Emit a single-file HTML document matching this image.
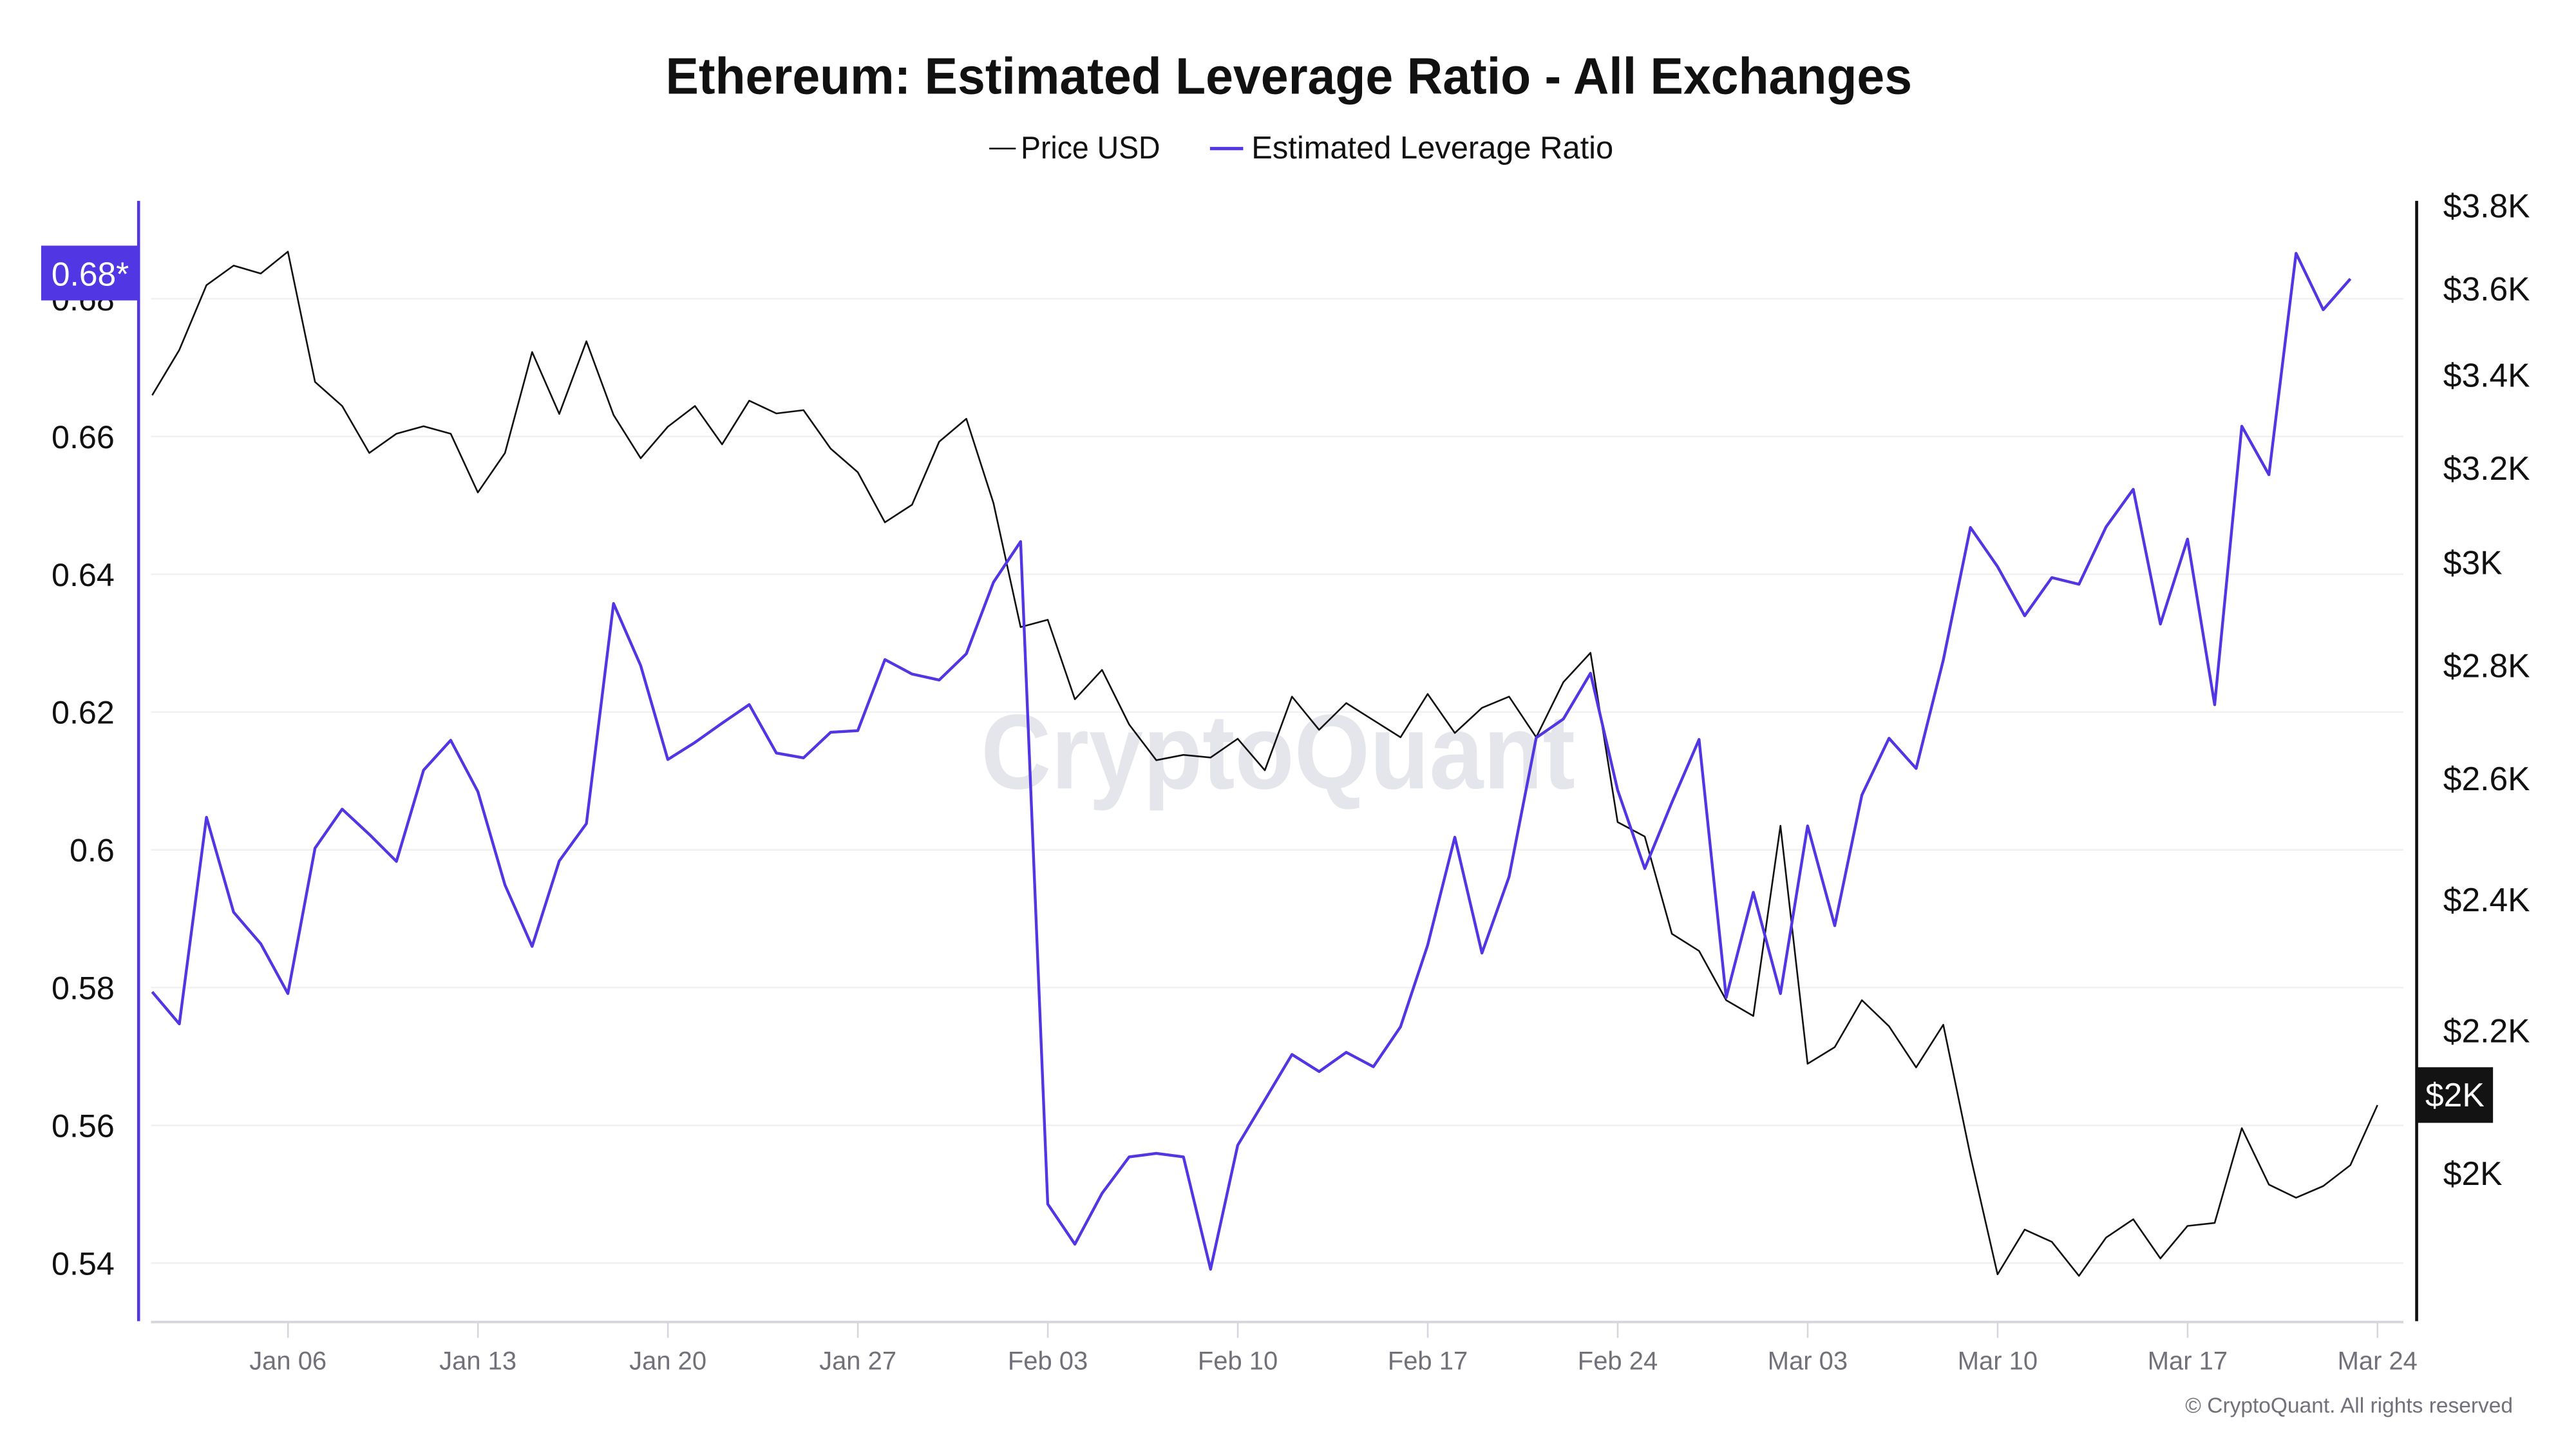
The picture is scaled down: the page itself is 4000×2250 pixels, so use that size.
<!DOCTYPE html>
<html><head><meta charset="utf-8"><style>
html,body{margin:0;padding:0;background:#fff;}
svg{display:block;}
text{font-family:"Liberation Sans",Arial,sans-serif;}
</style></head><body>
<svg width="4000" height="2250" viewBox="0 0 1552 873" xmlns="http://www.w3.org/2000/svg">
<rect width="1552" height="873" fill="#fff"/>
<text x="401" y="56.5" font-size="31" font-weight="bold" fill="#111" textLength="751" lengthAdjust="spacingAndGlyphs">Ethereum: Estimated Leverage Ratio - All Exchanges</text>
<line x1="596" y1="89.5" x2="612" y2="89.5" stroke="#111" stroke-width="1"/>
<text x="615" y="95.5" font-size="19" fill="#111" textLength="84" lengthAdjust="spacingAndGlyphs">Price USD</text>
<line x1="729" y1="89.5" x2="749" y2="89.5" stroke="#5136e3" stroke-width="2"/>
<text x="754" y="95.5" font-size="19" fill="#111" textLength="218" lengthAdjust="spacingAndGlyphs">Estimated Leverage Ratio</text>
<g stroke="#f1f1f3" stroke-width="1">
<line x1="91" y1="180" x2="1448" y2="180"/><line x1="91" y1="263" x2="1448" y2="263"/>
<line x1="91" y1="346" x2="1448" y2="346"/><line x1="91" y1="429" x2="1448" y2="429"/>
<line x1="91" y1="512" x2="1448" y2="512"/><line x1="91" y1="595" x2="1448" y2="595"/>
<line x1="91" y1="678" x2="1448" y2="678"/><line x1="91" y1="761" x2="1448" y2="761"/>
</g>
<text x="591" y="475" font-size="64" font-weight="bold" fill="#e5e5ec" textLength="358" lengthAdjust="spacingAndGlyphs">CryptoQuant</text>
<g font-size="19.5" fill="#111" text-anchor="end">
<text x="69" y="187">0.68</text><text x="69" y="270">0.66</text><text x="69" y="353">0.64</text><text x="69" y="436">0.62</text>
<text x="69" y="519">0.6</text><text x="69" y="602">0.58</text><text x="69" y="685">0.56</text><text x="69" y="768">0.54</text>
</g>
<line x1="83.5" y1="121" x2="83.5" y2="796" stroke="#5136e3" stroke-width="1.8"/>
<rect x="24.8" y="148" width="58" height="33" fill="#5136e3"/>
<text x="31" y="172" font-size="20" fill="#fff">0.68*</text>
<line x1="1456" y1="121" x2="1456" y2="796" stroke="#111" stroke-width="1.8"/>
<g font-size="20" fill="#111">
<text x="1472" y="131">$3.8K</text><text x="1472" y="181">$3.6K</text><text x="1472" y="233">$3.4K</text>
<text x="1472" y="289">$3.2K</text><text x="1472" y="346">$3K</text><text x="1472" y="408">$2.8K</text>
<text x="1472" y="476">$2.6K</text><text x="1472" y="549">$2.4K</text><text x="1472" y="628">$2.2K</text>
<text x="1472" y="714">$2K</text>
</g>
<line x1="91" y1="796.5" x2="1448" y2="796.5" stroke="#d6d6de" stroke-width="1.5"/>
<g stroke="#d6d6de" stroke-width="1">
<line x1="173.5" y1="797" x2="173.5" y2="806"/><line x1="287.95" y1="797" x2="287.95" y2="806"/>
<line x1="402.4" y1="797" x2="402.4" y2="806"/><line x1="516.85" y1="797" x2="516.85" y2="806"/>
<line x1="631.3" y1="797" x2="631.3" y2="806"/><line x1="745.75" y1="797" x2="745.75" y2="806"/>
<line x1="860.2" y1="797" x2="860.2" y2="806"/><line x1="974.65" y1="797" x2="974.65" y2="806"/>
<line x1="1089.1" y1="797" x2="1089.1" y2="806"/><line x1="1203.55" y1="797" x2="1203.55" y2="806"/>
<line x1="1318" y1="797" x2="1318" y2="806"/><line x1="1432.4" y1="797" x2="1432.4" y2="806"/>
</g>
<g font-size="15.5" fill="#71717a" text-anchor="middle">
<text x="173.5" y="825">Jan 06</text><text x="287.95" y="825">Jan 13</text><text x="402.4" y="825">Jan 20</text>
<text x="516.85" y="825">Jan 27</text><text x="631.3" y="825">Feb 03</text><text x="745.75" y="825">Feb 10</text>
<text x="860.2" y="825">Feb 17</text><text x="974.65" y="825">Feb 24</text><text x="1089.1" y="825">Mar 03</text>
<text x="1203.55" y="825">Mar 10</text><text x="1318" y="825">Mar 17</text><text x="1432.4" y="825">Mar 24</text>
</g>
<text x="1514" y="851" font-size="13" fill="#71717a" text-anchor="end">© CryptoQuant. All rights reserved</text>
<g transform="translate(91.7,0) scale(16.35,1)" fill="none" stroke-linejoin="round">
<polyline vector-effect="non-scaling-stroke" stroke="#111" stroke-width="2.6" points="0,238.1 1,210.8 2,171.8 3,160 4,164.8 5,151.6 6,230.1 7,244.6 8,272.9 9,261.3 10,256.8 11,261.3 12,296.7 13,272.9 14,212.1 15,249.4 16,205.6 17,250 18,276.1 19,257.1 20,244.6 21,267.7 22,241.4 23,249.1 24,247.1 25,270.3 26,284.5 27,314.7 28,304.1 29,266.1 30,252.3 31,303.1 32,377.8 33,373.4 34,421.3 35,403.6 36,436.5 37,458 38,454.8 39,456.4 40,445.1 41,464.1 42,419.7 43,439.7 44,423.6 45,433.9 46,444.2 47,418.1 48,441.6 49,426.5 50,419.7 51,444.2 52,411 53,393.3 54,495.3 55,504 56,562.6 57,572.9 58,602.6 59,612.1 60,497.5 61,640.9 62,630.9 63,602.6 64,618.3 65,643.1 66,617.4 67,696.3 68,767.8 69,740.8 70,748.2 71,768.7 72,745.6 73,734.6 74,758.2 75,738.6 76,736.8 77,679.7 78,713.7 79,721.6 80,714.6 81,702 82,665.8"/>
<polyline vector-effect="non-scaling-stroke" stroke="#5136e3" stroke-width="4.4" points="0,597.6 1,616.9 2,492.4 3,549.6 4,568.6 5,598.6 6,511 7,487.5 8,502.7 9,519 10,464 11,446 12,476.9 13,533.2 14,570.2 15,518.7 16,496.2 17,363.6 18,401 19,457.6 20,447.3 21,435.7 22,424.5 23,453.7 24,456.6 25,441.2 26,440.2 27,397.4 28,406.1 29,409.7 30,393.9 31,350.8 32,326.3 33,725.4 34,749.6 35,719 36,697 37,694.9 38,697 39,764.7 40,690 41,662.7 42,635.3 43,645.6 44,634 45,642.7 46,618.6 47,569.4 48,504.4 49,574.2 50,528.2 51,444.5 52,433.2 53,405.6 54,476 55,523.3 56,483.4 57,445.5 58,601 59,537.6 60,598.6 61,497.6 62,557.7 63,479 64,444.8 65,463 66,397.7 67,317.8 68,341.4 69,371 70,348 71,352 72,317.4 73,294.8 74,376 75,324.8 76,424.6 77,256.8 78,286 79,152.6 80,186.6 81,168"/>
</g>
<rect x="1456" y="643" width="46" height="33.5" fill="#131313"/>
<text x="1479" y="666.5" font-size="20" fill="#fff" text-anchor="middle">$2K</text>
</svg>
</body></html>
